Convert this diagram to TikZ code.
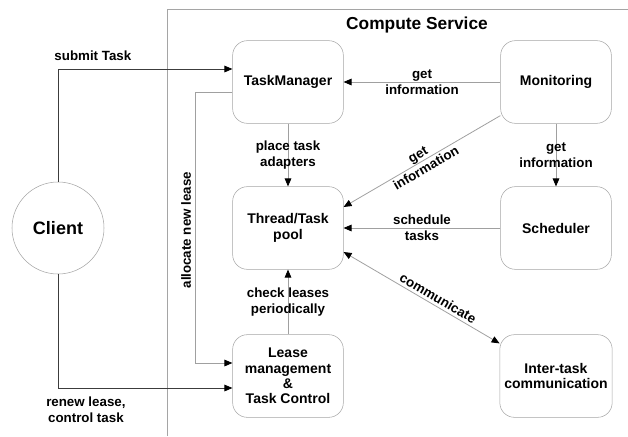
\documentclass[tikz,border=0pt]{standalone}
\usepackage{fontspec}
\setmainfont{Liberation Sans}
\usepackage{tikz}
\usetikzlibrary{arrows.meta}

\definecolor{boxgray}{RGB}{165,165,165}
\definecolor{linegray}{RGB}{160,160,160}
\definecolor{darkline}{RGB}{60,60,60}

\tikzset{
    comp/.style={draw=boxgray, rounded corners=11pt, minimum width=83pt, minimum height=62pt,
        align=center, font=\fontsize{10.5}{11.6}\selectfont\bfseries},
    lbl/.style={align=center, font=\fontsize{10}{12}\selectfont\bfseries, inner sep=1pt},
    tip/.style={-{Triangle[length=6pt, width=5pt, color=black]}},
    inner/.style={tip, draw=linegray, line width=0.6pt},
    outer/.style={tip, draw=darkline, line width=0.6pt}}

\begin{document}
\begin{tikzpicture}[x=0.75pt, y=-0.75pt]
\useasboundingbox (0,0) rectangle (628,436);

%%% service frame
\draw[boxgray, line width=0.6pt] (167,436) -- (167,9) -- (628,9);
\node[font=\fontsize{13}{15}\selectfont\bfseries] (title) at (417,25) {Compute Service};

%%% components
\node[comp] (tm)    at (288,82)  {TaskManager};
\node[comp] (mon)   at (556,82)  {Monitoring};
\node[comp] (pool)  at (288,228) {Thread/Task\\pool};
\node[comp] (sched) at (556,228) {Scheduler};
\node[comp] (lease) at (288,376) {Lease\\management\\\&\\Task Control};
\node[comp] (inter) at (556,376) {Inter-task\\communication};

% client
\node[circle, draw=boxgray, minimum size=69pt, font=\fontsize{13.5}{16}\selectfont\bfseries] (client) at (58,228) {Client};

%%% client links
\draw[outer] (client.north) |- node[lbl, pos=0.6, above=5pt] {submit Task} ([yshift=9.75pt]tm.west);
\draw[outer] (client.south) |- node[lbl, pos=0.58, below=5pt] {renew lease,\\control task} ([yshift=-9pt]lease.west);

%%% inside the service
\draw[inner] ([yshift=-7.5pt]tm.west) -- ++(-37,0)
    |- node[lbl, pos=0.255, rotate=90, anchor=south, yshift=2pt] {allocate new lease} ([yshift=9.75pt]lease.west);
\draw[inner] (tm) -- node[lbl] {place task\\adapters} (pool);
\draw[inner] (lease) -- node[lbl] {check leases\\periodically} (pool);
\draw[inner] (mon) -- node[lbl] {get\\information} (tm);
\draw[inner] (mon) -- node[lbl] {get\\information} (sched);
\draw[inner] ([yshift=6pt]mon.south west) -- node[lbl, sloped] {get\\information} ([yshift=15.75pt]pool.east);
\draw[inner] (sched) -- node[lbl] {schedule\\tasks} (pool);
\draw[inner, {Triangle[length=6pt, width=5pt, color=black]}-{Triangle[length=6pt, width=5pt, color=black]}] ([yshift=-18pt]pool.east)
    -- node[lbl, sloped, above=1pt, pos=0.58] {communicate} ([yshift=-6.75pt]inter.north west);
\end{tikzpicture}
\end{document}
